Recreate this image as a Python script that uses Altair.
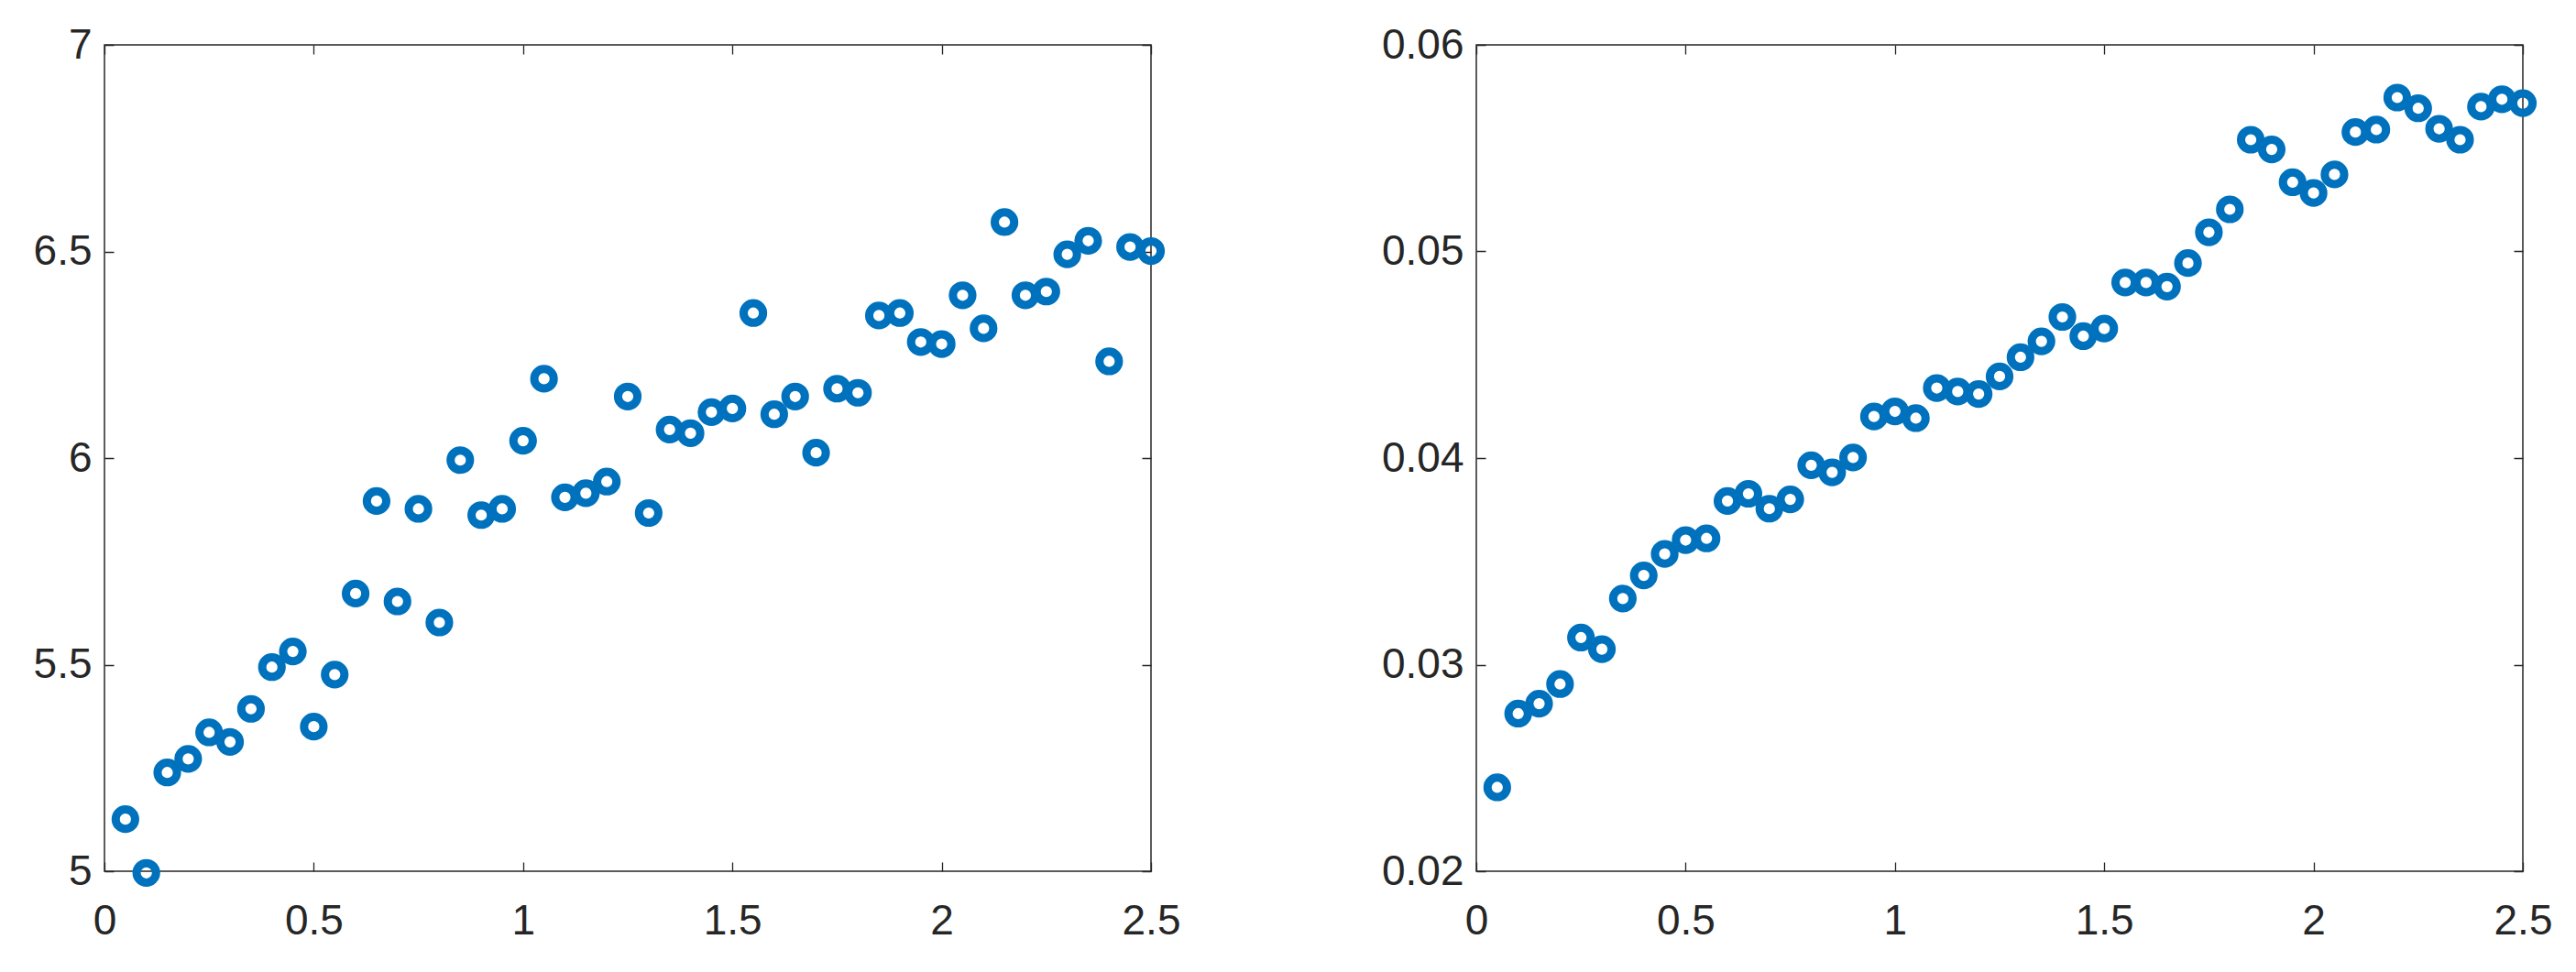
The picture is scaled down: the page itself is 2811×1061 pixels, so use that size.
import altair as alt
import pandas as pd

# ---- data ----
x_vals = [0.05, 0.10, 0.15, 0.20, 0.25, 0.30, 0.35, 0.40, 0.45, 0.50,
          0.55, 0.60, 0.65, 0.70, 0.75, 0.80, 0.85, 0.90, 0.95, 1.00,
          1.05, 1.10, 1.15, 1.20, 1.25, 1.30, 1.35, 1.40, 1.45, 1.50,
          1.55, 1.60, 1.65, 1.70, 1.75, 1.80, 1.85, 1.90, 1.95, 2.00,
          2.05, 2.10, 2.15, 2.20, 2.25, 2.30, 2.35, 2.40, 2.45, 2.50]

left_vals = [5.126, 4.996, 5.239, 5.272, 5.336, 5.313, 5.393, 5.494, 5.532, 5.350,
             5.476, 5.672, 5.896, 5.653, 5.877, 5.602, 5.995, 5.862, 5.877, 6.042,
             6.192, 5.905, 5.915, 5.943, 6.149, 5.867, 6.069, 6.060, 6.111, 6.120,
             6.351, 6.106, 6.149, 6.013, 6.168, 6.158, 6.345, 6.351, 6.281, 6.276,
             6.394, 6.314, 6.571, 6.394, 6.403, 6.493, 6.526, 6.234, 6.511, 6.501]

right_vals = [0.02406, 0.02763, 0.02811, 0.02906, 0.03131, 0.03075, 0.03320, 0.03432, 0.03536, 0.03603,
              0.03611, 0.03792, 0.03827, 0.03755, 0.03800, 0.03965, 0.03931, 0.04003, 0.04201, 0.04226,
              0.04193, 0.04339, 0.04322, 0.04310, 0.04395, 0.04488, 0.04565, 0.04683, 0.04590, 0.04627,
              0.04850, 0.04850, 0.04830, 0.04944, 0.05093, 0.05204, 0.05541, 0.05494, 0.05335, 0.05283,
              0.05373, 0.05578, 0.05590, 0.05745, 0.05693, 0.05594, 0.05541, 0.05701, 0.05737, 0.05718]

x_ticks = [0, 0.5, 1, 1.5, 2, 2.5]
left_ticks = [5, 5.5, 6, 6.5, 7]
right_ticks = [0.02, 0.03, 0.04, 0.05, 0.06]

# ---- style ----
W, H = 1142, 902
BLUE = "#0072BD"
AX = "#262626"
FONT = "Liberation Sans"
FS = 46
TL = 10  # inward tick length


def panel(values, ydomain, yticks):
    df = pd.DataFrame({"x": x_vals, "y": values})
    return alt.Chart(df).mark_point(
        shape="circle", filled=False, size=450, strokeWidth=9,
        color=BLUE, opacity=1
    ).encode(
        x=alt.X("x:Q",
                scale=alt.Scale(domain=[0, 2.5], nice=False, zero=False),
                axis=alt.Axis(values=x_ticks, format="~g", title=None,
                              labelFlush=False, labelPadding=32,
                              labelFont=FONT, labelFontSize=FS, labelColor=AX,
                              domain=False, ticks=False, tickSize=0,
                              grid=True, gridColor=AX, gridOpacity=1, gridWidth=1.3,
                              gridDash=[TL, H - 2 * TL, TL, 5000])),
        y=alt.Y("y:Q",
                scale=alt.Scale(domain=ydomain, nice=False, zero=False),
                axis=alt.Axis(values=yticks, format="~g", title=None,
                              labelFlush=False, labelPadding=14,
                              labelFont=FONT, labelFontSize=FS, labelColor=AX,
                              domain=False, ticks=False, tickSize=0,
                              grid=True, gridColor=AX, gridOpacity=1, gridWidth=1.3,
                              gridDash=[TL, W - 2 * TL, TL, 5000])),
    ).properties(width=W, height=H)


left = panel(left_vals, [5, 7], left_ticks)
right = panel(right_vals, [0.02, 0.06], right_ticks)

chart = alt.hconcat(left, right, spacing=217).properties(
    padding={"left": 27, "top": 17, "right": 5, "bottom": 5},
    background="white",
).configure_view(stroke=AX, strokeWidth=1.5, strokeOpacity=1)

chart.save("out.html", embed_options={"renderer": "svg", "actions": False})
